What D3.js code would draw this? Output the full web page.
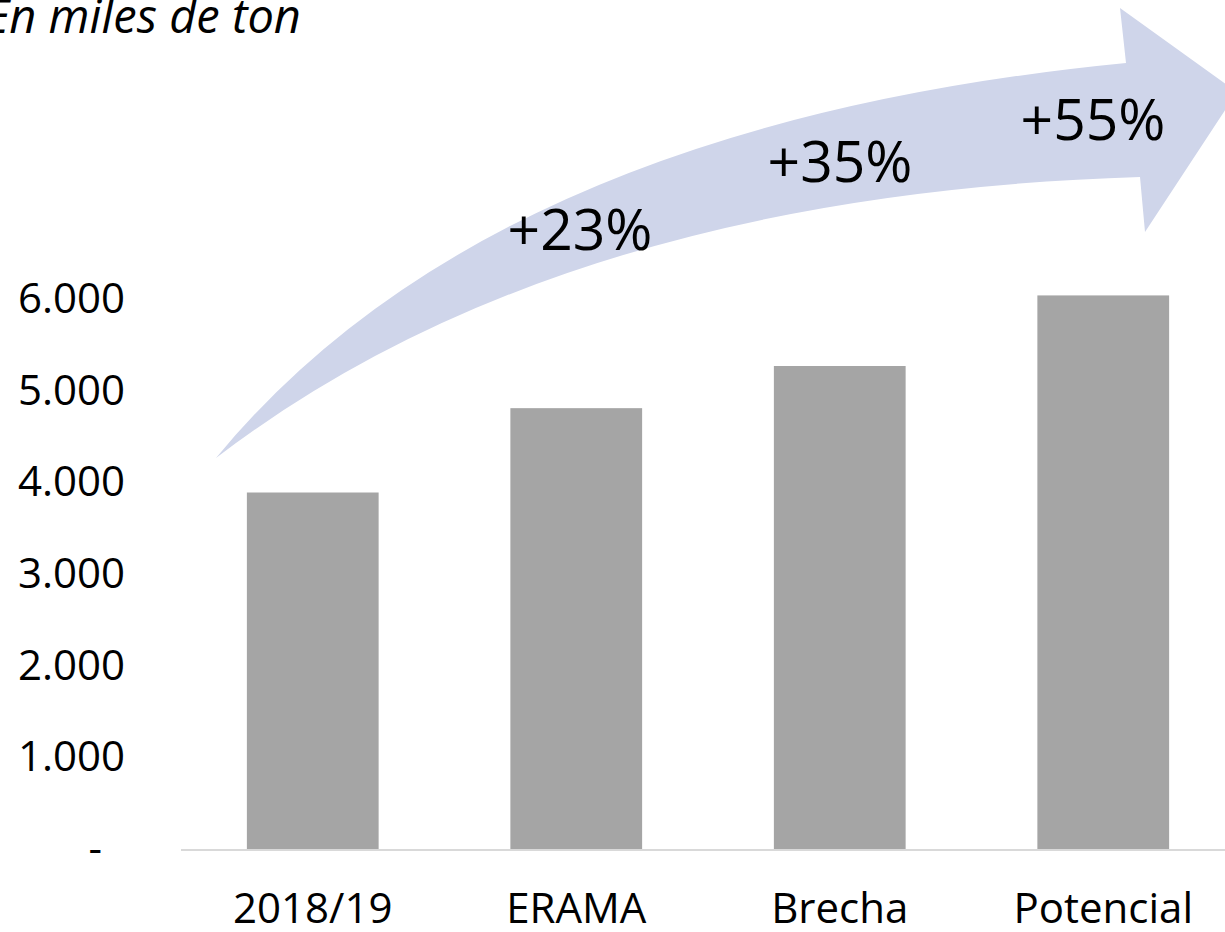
<!DOCTYPE html>
<html>
<head>
<meta charset="utf-8">
<script src="https://cdn.jsdelivr.net/npm/d3@7"></script>
<style>
  html, body { margin: 0; padding: 0; background: #fff; overflow: hidden; }
  svg { display: block; }
  text { font-family: "Open Sans", "Noto Sans", sans-serif; fill: #000; }
</style>
</head>
<body>
<svg id="chart" width="1225" height="932"></svg>
<script>
// Producción en miles de toneladas
const categories = ["2018/19", "ERAMA", "Brecha", "Potencial"];
const values = [3900, 4820, 5280, 6050];
const yTicks = [0, 1000, 2000, 3000, 4000, 5000, 6000];
const growthLabels = ["+23%", "+35%", "+55%"];

const svg = d3.select("#chart");
const W = 1225, H = 932;

const x = d3.scaleBand()
  .domain(categories)
  .range([181, 1235])
  .paddingInner(0.5)
  .paddingOuter(0.25);

const y = d3.scaleLinear()
  .domain([0, 6000])
  .range([850, 300]);

// Curved growth arrow behind the labels
const arrow = d3.path();
arrow.moveTo(216, 458);
arrow.quadraticCurveTo(490, 125, 1126, 63);
arrow.lineTo(1120, 8);
arrow.lineTo(1237, 92);
arrow.lineTo(1145, 232);
arrow.lineTo(1140, 177);
arrow.quadraticCurveTo(560, 195, 216, 458);
arrow.closePath();
svg.append("path")
  .attr("d", arrow.toString())
  .attr("fill", "#cfd5ea");

// Bars
svg.append("g")
  .selectAll("rect")
  .data(values)
  .join("rect")
  .attr("x", (d, i) => x(categories[i]))
  .attr("y", d => y(d))
  .attr("width", x.bandwidth())
  .attr("height", d => y(0) - y(d))
  .attr("fill", "#a5a5a5");

// Baseline
svg.append("line")
  .attr("x1", 181).attr("x2", W)
  .attr("y1", y(0)).attr("y2", y(0))
  .attr("stroke", "#d9d9d9")
  .attr("stroke-width", 2);

// Y axis labels
const fmt = d => d === 0 ? "-" : d3.format(",")(d).replace(/,/g, ".");
const yAxis = d3.axisLeft(y).tickValues(yTicks).tickFormat(fmt).tickSize(0).tickPadding(0);
const yg = svg.append("g").attr("transform", "translate(125,0)").call(yAxis);
yg.select(".domain").remove();
yg.selectAll("text")
  .attr("font-size", 42)
  .attr("font-family", "Open Sans, Noto Sans, sans-serif")
  .attr("fill", "#000")
  .attr("dy", "0.3em")
  .attr("dx", d => d === 0 ? -23 : 0);

// Category labels
const xAxis = d3.axisBottom(x).tickSize(0).tickPadding(0);
const xg = svg.append("g").attr("transform", `translate(0,${y(0)})`).call(xAxis);
xg.select(".domain").remove();
xg.selectAll("text")
  .attr("font-size", 42)
  .attr("font-family", "Open Sans, Noto Sans, sans-serif")
  .attr("fill", "#000")
  .attr("y", 73)
  .attr("dy", 0);

// Growth labels relative to 2018/19
const growthPos = [[580, 250], [840, 182], [1093, 140]];
svg.append("g")
  .selectAll("text")
  .data(growthLabels)
  .join("text")
  .attr("x", (d, i) => growthPos[i][0])
  .attr("y", (d, i) => growthPos[i][1])
  .attr("text-anchor", "middle")
  .attr("font-size", 57)
  .text(d => d);

// Unit note
svg.append("text")
  .attr("x", -15)
  .attr("y", 33)
  .attr("font-size", 47)
  .attr("font-style", "italic")
  .text("En miles de ton");
</script>
</body>
</html>
